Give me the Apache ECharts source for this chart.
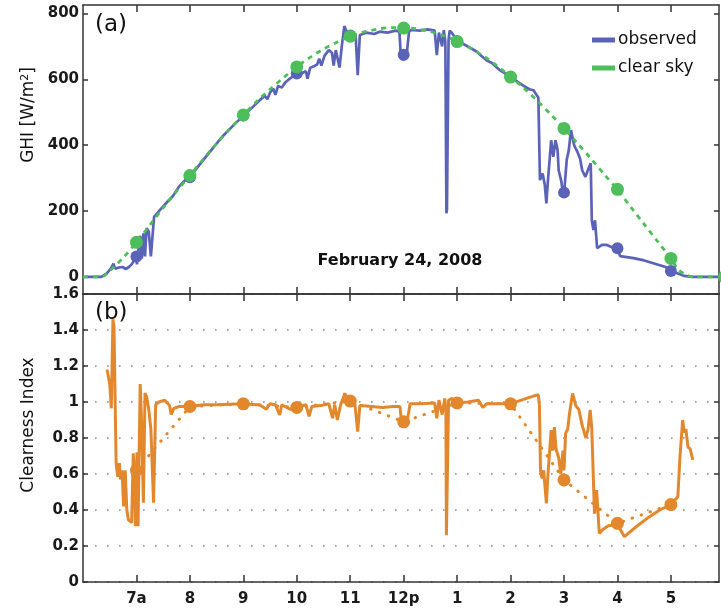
<!DOCTYPE html>
<html><head><meta charset="utf-8">
<script src="https://cdn.jsdelivr.net/npm/echarts@6/dist/echarts.min.js"></script>
<style>html,body{margin:0;padding:0;background:#fff}#c{width:721px;height:611px}</style>
</head><body><div id="c"></div>
<script>
// ---- data ----
const hourTicks = [7, 8, 9, 10, 11, 12, 13, 14, 15, 16, 17];
const hourLabels = ['7a', '8', '9', '10', '11', '12p', '1', '2', '3', '4', '5'];
const ghiTicks = [0, 200, 400, 600, 800];
const ktTicks = [0, 0.2, 0.4, 0.6, 0.8, 1.0, 1.2, 1.4, 1.6];
const ktTickLabels = ['0', '0.2', '0.4', '0.6', '0.8', '1', '1.2', '1.4', '1.6'];

const obsTime = [6.00,6.34,6.44,6.52,6.57,6.60,6.66,6.74,6.80,6.86,6.91,6.95,6.98,7.01,7.04,7.07,7.10,7.13,7.16,7.19,7.23,7.27,7.33,7.45,7.60,7.63,7.68,7.80,7.90,8.00,8.20,8.40,8.60,8.80,9.00,9.15,9.31,9.40,9.45,9.50,9.56,9.60,9.65,9.72,9.78,9.85,9.92,10.00,10.08,10.17,10.20,10.25,10.32,10.38,10.42,10.46,10.52,10.60,10.66,10.69,10.73,10.80,10.84,10.89,10.95,11.05,11.10,11.14,11.18,11.30,11.45,11.55,11.70,11.85,11.92,11.95,12.00,12.05,12.10,12.14,12.30,12.45,12.58,12.62,12.66,12.72,12.75,12.78,12.80,12.81,12.84,12.86,12.90,13.00,13.20,13.37,13.45,13.50,13.55,13.65,13.80,14.00,14.20,14.35,14.43,14.49,14.52,14.55,14.60,14.64,14.67,14.70,14.73,14.76,14.80,14.84,14.88,14.90,14.95,14.98,15.01,15.05,15.09,15.13,15.19,15.25,15.30,15.34,15.40,15.47,15.50,15.52,15.55,15.58,15.62,15.71,15.80,15.90,16.00,16.05,16.30,16.50,16.70,16.90,17.06,17.25,17.40,17.90];
const obsGhi = [0,0,10,25,40,25,28,30,24,30,38,48,78,38,88,125,55,132,62,148,138,62,182,205,232,228,245,275,292,304,345,385,425,458,490,512,537,550,540,560,572,553,580,575,590,600,608,615,618,625,602,635,640,645,663,642,672,689,680,642,689,636,698,762,738,734,738,613,735,742,738,745,742,748,745,663,660,665,745,750,748,752,748,674,742,700,750,712,193,205,720,748,742,718,700,684,672,665,658,650,628,608,585,570,567,552,545,294,314,280,223,294,300,415,365,415,385,324,290,253,270,355,385,446,400,380,360,324,304,334,345,172,142,172,87,97,97,90,87,63,57,50,40,30,15,3,0,0];

const clearTime = [6.00,6.34,6.50,6.75,7.00,7.25,7.50,7.75,8.00,8.25,8.50,8.75,9.00,9.25,9.50,9.75,10.00,10.25,10.50,10.75,11.00,11.25,11.50,11.75,12.00,12.25,12.50,12.75,13.00,13.25,13.50,13.75,14.00,14.25,14.50,14.75,15.00,15.25,15.50,15.75,16.00,16.25,16.50,16.75,17.00,17.15,17.30,17.45,17.90];
const clearGhi = [0,0,18,58,105,157,210,260,308,358,405,450,492,533,570,605,638,667,692,713,731,744,752,757,757,753,745,732,716,695,670,641,608,573,535,494,451,406,360,312,265,212,160,108,56,20,5,0,0];

const hourlyTime = [7, 8, 9, 10, 11, 12, 13, 14, 15, 16, 17, 18];
const hourlyClear = [105, 308, 492, 638, 731, 756, 715, 607, 451, 266, 56, 0];
const hourlyObsTime = [7, 8, 9, 10, 11, 12, 13, 14, 15, 16, 17];
const hourlyObs = [62, 303, 490, 618, 733, 675, 716, 607, 256, 87, 18];

const ktTime = [6.45,6.50,6.53,6.56,6.58,6.62,6.65,6.68,6.70,6.73,6.76,6.79,6.82,6.85,6.91,6.94,6.96,6.98,7.01,7.03,7.07,7.10,7.13,7.16,7.19,7.23,7.27,7.32,7.36,7.42,7.53,7.62,7.65,7.70,7.80,8.00,8.25,8.50,8.75,9.00,9.31,9.43,9.50,9.60,9.68,9.72,9.87,10.00,10.17,10.23,10.28,10.45,10.60,10.67,10.71,10.76,10.82,10.90,10.95,11.00,11.08,11.14,11.18,11.40,11.60,11.80,11.93,11.96,12.00,12.06,12.12,12.30,12.58,12.62,12.66,12.72,12.77,12.79,12.80,12.84,12.90,13.00,13.20,13.40,13.48,13.55,13.80,14.00,14.20,14.43,14.52,14.54,14.56,14.59,14.62,14.67,14.70,14.76,14.79,14.82,14.85,14.90,14.94,14.98,15.00,15.03,15.07,15.10,15.16,15.22,15.28,15.34,15.41,15.45,15.49,15.52,15.57,15.61,15.66,15.72,15.83,16.00,16.13,16.35,16.60,16.79,17.00,17.13,17.17,17.22,17.25,17.28,17.32,17.36,17.41];
const ktValue = [1.18,1.10,0.965,1.46,1.42,0.66,0.585,0.66,0.57,0.62,0.42,0.62,0.40,0.345,0.33,0.715,0.62,0.31,0.72,0.31,1.10,0.85,0.44,1.05,1.03,0.96,0.85,0.44,0.985,1.00,1.01,0.98,0.93,0.965,0.975,0.975,0.985,0.985,0.988,0.99,0.983,0.96,0.99,0.985,0.928,0.985,0.96,0.97,0.985,0.92,0.975,0.98,0.99,0.91,0.985,0.90,0.985,1.048,1.02,1.007,1.01,0.835,0.98,0.975,0.97,0.975,0.975,0.89,0.87,0.88,0.99,0.99,0.995,0.91,1.01,0.93,1.02,0.95,0.26,1.01,1.02,0.995,1.0,1.01,0.97,0.99,0.99,0.99,1.01,1.033,1.04,0.98,0.62,0.575,0.62,0.437,0.60,0.844,0.73,0.86,0.74,0.69,0.60,0.73,0.62,0.826,0.85,0.93,1.048,0.98,0.956,0.87,0.80,0.85,0.956,0.85,0.38,0.51,0.27,0.29,0.313,0.32,0.252,0.307,0.363,0.40,0.43,0.474,0.696,0.90,0.83,0.85,0.75,0.74,0.678];

const ktHourTime = [7, 8, 9, 10, 11, 12, 13, 14, 15, 16, 17];
const ktHourValue = [0.62, 0.975, 0.99, 0.97, 1.005, 0.89, 0.995, 0.99, 0.567, 0.326, 0.43];

// ---- chart ----
const BLUE = '#5b63b8', GREEN = '#4dbe5a', ORANGE = '#e3872c', AX = '#333';
const FONT = 'DejaVu Sans';
const zip = (a, b) => a.map((v, i) => [v, b[i]]);
const hourLabel = v => { const i = hourTicks.indexOf(Math.round(v)); return i >= 0 ? hourLabels[i] : ''; };

const lab = { fontFamily: FONT, fontWeight: 'bold', fontSize: 15, color: '#1a1a1a' };
const axLine = { show: true, onZero: false, lineStyle: { color: AX, width: 1.5 } };

function xAx(grid, pos, showLab) {
  return {
    type: 'value', gridIndex: grid, position: pos, min: 6, max: 17.9,
    axisLine: axLine,
    axisTick: { show: true, inside: true, length: 7, customValues: hourTicks, lineStyle: { color: AX, width: 1.5 } },
    axisLabel: showLab ? Object.assign({ show: true, margin: 10, customValues: hourTicks, formatter: hourLabel }, lab) : { show: false },
    splitLine: { show: false }
  };
}
function yAx(grid, pos, min, max, ticks, showLab, fmt, split) {
  return {
    type: 'value', gridIndex: grid, position: pos, min: min, max: max,
    axisLine: axLine,
    axisTick: { show: true, inside: true, length: 5, customValues: ticks, lineStyle: { color: AX, width: 1.5 } },
    axisLabel: showLab ? Object.assign({ show: true, margin: 4, customValues: ticks, formatter: fmt }, lab) : { show: false },
    splitLine: split ? { show: true, lineStyle: { color: '#8a8a8a', width: 1.6, type: [1.6, 10.4] } } : { show: false }
  };
}

const chart = echarts.init(document.getElementById('c'), null, { renderer: 'canvas' });
chart.setOption({
  backgroundColor: '#fff',
  animation: false,
  grid: [
    { left: 83, right: 2, top: 5, height: 289, show: false },
    { left: 83, right: 2, top: 294, height: 288, show: false }
  ],
  xAxis: [
    xAx(0, 'bottom', false), xAx(0, 'top', false),
    xAx(1, 'bottom', true), xAx(1, 'top', false)
  ],
  yAxis: [
    yAx(0, 'left', -52, 826, ghiTicks, true, v => String(Math.round(v)), false),
    yAx(0, 'right', -52, 826, ghiTicks, false),
    yAx(1, 'left', 0, 1.6, ktTicks, true, v => { const i = ktTicks.findIndex(t => Math.abs(t - v) < 1e-6); return i >= 0 ? ktTickLabels[i] : ''; }, true),
    yAx(1, 'right', 0, 1.6, ktTicks, false, null, false)
  ],
  legend: {
    orient: 'vertical', left: 587, top: 25, icon: 'rect', itemWidth: 23, itemHeight: 5, itemGap: 8,
    data: ['observed', 'clear sky'],
    textStyle: { fontFamily: FONT, fontSize: 17, color: '#111', lineHeight: 20, padding: [0, 0, 0, -2] }
  },
  series: [
    { name: 'observed', type: 'line', xAxisIndex: 0, yAxisIndex: 0, data: zip(obsTime, obsGhi), showSymbol: false, symbol: 'none',
      lineStyle: { color: BLUE, width: 2.7 }, itemStyle: { color: BLUE }, z: 2 },
    { name: 'clear sky', type: 'line', xAxisIndex: 0, yAxisIndex: 0, data: zip(clearTime, clearGhi), showSymbol: false, symbol: 'none', smooth: 0.3,
      lineStyle: { color: GREEN, width: 2.8, type: [5, 5] }, itemStyle: { color: GREEN }, z: 3 },
    { name: 'observed hourly', type: 'scatter', xAxisIndex: 0, yAxisIndex: 0, data: zip(hourlyObsTime, hourlyObs), symbolSize: 12,
      itemStyle: { color: BLUE, opacity: 1 }, z: 4 },
    { name: 'clear hourly', type: 'scatter', xAxisIndex: 0, yAxisIndex: 0, data: zip(hourlyTime, hourlyClear), symbolSize: 13, clip: false,
      itemStyle: { color: GREEN, opacity: 1 }, z: 5 },
    { name: 'kt', type: 'line', xAxisIndex: 2, yAxisIndex: 2, data: zip(ktTime, ktValue), showSymbol: false, symbol: 'none',
      lineStyle: { color: ORANGE, width: 3 }, z: 3 },
    { name: 'kt hourly', type: 'line', xAxisIndex: 2, yAxisIndex: 2, data: zip(ktHourTime, ktHourValue), symbol: 'circle', symbolSize: 13, showSymbol: true,
      lineStyle: { color: ORANGE, width: 3, type: [0.5, 9], cap: 'round' }, itemStyle: { color: ORANGE, opacity: 1 }, z: 4 }
  ],
  graphic: [
    { type: 'text', left: 95, top: 14, style: { text: '(a)', fontFamily: FONT, fontSize: 23, fill: '#111' }, z: 10 },
    { type: 'text', left: 95, top: 302, style: { text: '(b)', fontFamily: FONT, fontSize: 23, fill: '#111' }, z: 10 },
    { type: 'text', x: 400, y: 261, style: { text: 'February 24, 2008', fontFamily: FONT, fontWeight: 'bold', fontSize: 16, fill: '#111', align: 'center', verticalAlign: 'middle' }, z: 10 },
    { type: 'text', x: 29, y: 115, rotation: Math.PI / 2,
      style: { text: '{a|GHI [W/m}{s|2}{a|]}', align: 'center', verticalAlign: 'middle',
        rich: { a: { fontFamily: FONT, fontSize: 17, fill: '#111', color: '#111' }, s: { fontFamily: FONT, fontSize: 11, fill: '#111', color: '#111', verticalAlign: 'top', padding: [0, 0, 8, 0] } } }, z: 10 },
    { type: 'text', x: 29, y: 425, rotation: Math.PI / 2,
      style: { text: 'Clearness Index', fontFamily: FONT, fontSize: 17, fill: '#111', align: 'center', verticalAlign: 'middle' }, z: 10 }
  ]
});
</script></body></html>
